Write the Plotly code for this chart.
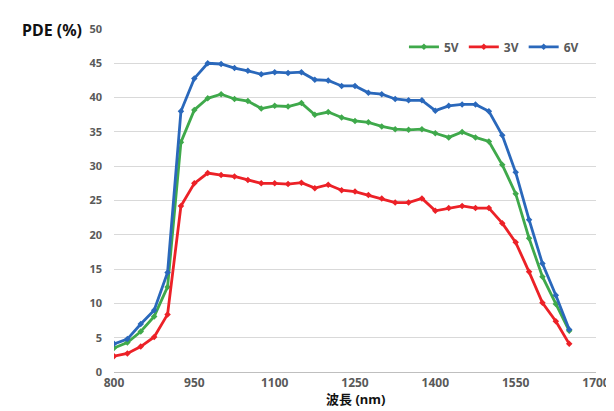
import plotly.graph_objects as go

wavelength = [800, 825, 850, 875, 900, 925, 950, 975, 1000, 1025, 1050, 1075, 1100, 1125, 1150,
              1175, 1200, 1225, 1250, 1275, 1300, 1325, 1350, 1375, 1400, 1425, 1450, 1475, 1500,
              1525, 1550, 1575, 1600, 1625, 1650]
pde_5v = [3.5, 4.3, 5.9, 8.1, 12.4, 33.5, 38.2, 39.9, 40.5, 39.8, 39.5, 38.4, 38.8, 38.7, 39.2,
          37.5, 37.9, 37.1, 36.6, 36.4, 35.8, 35.4, 35.3, 35.4, 34.8, 34.2, 35.0, 34.2, 33.6,
          30.2, 26.0, 19.5, 13.9, 9.9, 6.0]
pde_3v = [2.3, 2.7, 3.7, 5.1, 8.4, 24.2, 27.5, 29.0, 28.7, 28.5, 28.0, 27.5, 27.5, 27.4, 27.6,
          26.8, 27.3, 26.5, 26.3, 25.8, 25.3, 24.7, 24.7, 25.3, 23.5, 23.9, 24.2, 23.9, 23.9,
          21.7, 18.9, 14.6, 10.1, 7.4, 4.1]
pde_6v = [4.1, 4.8, 7.0, 9.0, 14.5, 38.0, 42.8, 45.0, 44.9, 44.3, 43.9, 43.4, 43.7, 43.6, 43.7,
          42.6, 42.5, 41.7, 41.7, 40.7, 40.5, 39.8, 39.6, 39.6, 38.1, 38.8, 39.0, 39.0, 38.0,
          34.5, 29.1, 22.2, 15.8, 11.2, 6.2]

series_names = ["5V", "3V", "6V"]
series_values = [pde_5v, pde_3v, pde_6v]
series_colors = ["#3fa94b", "#ec2127", "#2a68bb"]

x_ticks = [800, 950, 1100, 1250, 1400, 1550, 1700]
y_ticks = [0, 5, 10, 15, 20, 25, 30, 35, 40, 45, 50]

fig = go.Figure()
for name, vals, col in zip(series_names, series_values, series_colors):
    fig.add_trace(go.Scatter(
        x=wavelength, y=vals, name=name, mode="lines+markers",
        line=dict(color=col, width=2.8),
        marker=dict(color=col, size=5, symbol="diamond"),
    ))

fig.update_layout(
    width=614, height=411,
    margin=dict(l=106, r=18, t=21, b=47),
    paper_bgcolor="white", plot_bgcolor="white",
    showlegend=True,
    legend=dict(orientation="h", x=0.975, xanchor="right", y=0.948, yanchor="middle",
                bgcolor="rgba(0,0,0,0)",
                font=dict(family="Noto Sans, sans-serif", size=12, color="#595959", weight="bold"),
                itemwidth=30, tracegroupgap=0),
    xaxis=dict(range=[800, 1700], tickvals=x_ticks, ticktext=[str(v) for v in x_ticks],
               showgrid=False, zeroline=False, showline=True, linecolor="#bfbfbf", linewidth=1,
               tickfont=dict(family="Noto Sans, sans-serif", size=12, color="#595959", weight="bold"),
               ticks=""),
    yaxis=dict(range=[0, 50], tickvals=y_ticks, showgrid=True, gridcolor="#d9d9d9", gridwidth=1,
               zeroline=False, showline=False,
               tickfont=dict(family="Noto Sans, sans-serif", size=11, color="#595959", weight="bold"),
               ticks="", ticklabelstandoff=11),
    annotations=[
        dict(text="<b>PDE (%)</b>", xref="paper", yref="paper",
             x=-0.194, y=0.997, xanchor="left", yanchor="middle", showarrow=False,
             font=dict(family="Noto Sans, sans-serif", size=16, color="#111")),
        dict(text="<b>波長 (nm)</b>", xref="paper", yref="paper",
             x=0.5, y=-0.078, xanchor="center", yanchor="middle", showarrow=False,
             font=dict(family="Noto Sans, Noto Sans CJK JP, sans-serif", size=13, color="#111")),
    ],
)

fig.write_html("out.html")
